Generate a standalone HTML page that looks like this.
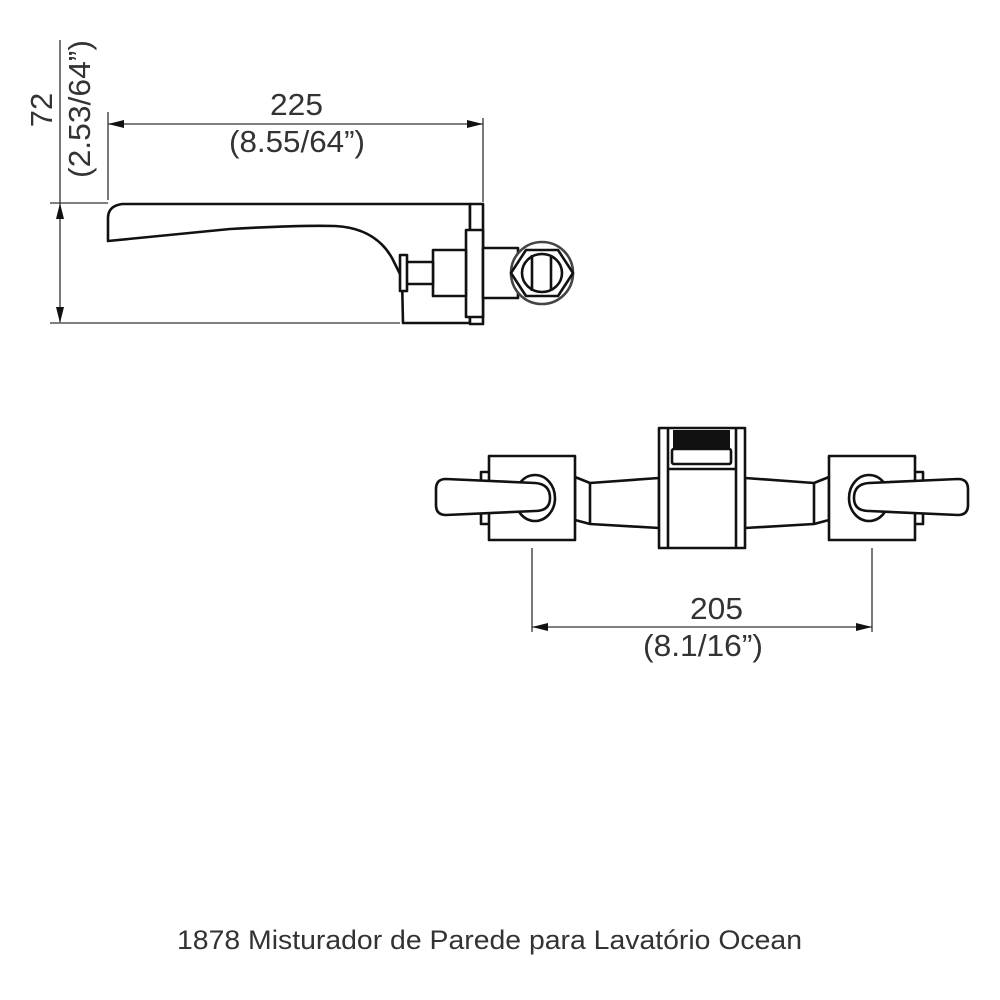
<!DOCTYPE html>
<html><head><meta charset="utf-8"><style>html,body{margin:0;padding:0;background:#fff}svg{display:block}</style></head>
<body>
<svg width="1000" height="1000" viewBox="0 0 1000 1000" xmlns="http://www.w3.org/2000/svg">
<rect width="1000" height="1000" fill="#fff"/>
<g font-family="Liberation Sans, Arial, sans-serif" fill="#333">
<text x="270" y="115" font-size="31" textLength="53" lengthAdjust="spacingAndGlyphs">225</text>
<text x="229" y="152" font-size="31" textLength="136" lengthAdjust="spacingAndGlyphs">(8.55/64”)</text>
<text transform="translate(52,110) rotate(-90)" font-size="31" text-anchor="middle">72</text>
<text transform="translate(90,178) rotate(-90)" font-size="31" textLength="138" lengthAdjust="spacingAndGlyphs">(2.53/64”)</text>
<text x="690" y="619" font-size="31" textLength="53" lengthAdjust="spacingAndGlyphs">205</text>
<text x="643" y="656" font-size="31" textLength="120" lengthAdjust="spacingAndGlyphs">(8.1/16”)</text>
<text x="177" y="949" font-size="27" textLength="625" lengthAdjust="spacingAndGlyphs">1878 Misturador de Parede para Lavatório Ocean</text>
</g>
<g stroke="#333" stroke-width="1.3" fill="none">
<line x1="108" y1="112" x2="108" y2="200"/>
<line x1="483" y1="118" x2="483" y2="202"/>
<line x1="108" y1="124" x2="483" y2="124"/>
<line x1="60" y1="40" x2="60" y2="322"/>
<line x1="50" y1="203" x2="108" y2="203"/>
<line x1="50" y1="323" x2="400" y2="323"/>
<line x1="532" y1="548" x2="532" y2="632"/>
<line x1="872" y1="548" x2="872" y2="632"/>
<line x1="532" y1="627" x2="872" y2="627"/>
</g>
<g fill="#111">
<polygon points="108,124 124,120 124,128"/>
<polygon points="483,124 467,120 467,128"/>
<polygon points="60,203 56,219 64,219"/>
<polygon points="60,323 56,307 64,307"/>
<polygon points="532,627 548,623 548,631"/>
<polygon points="872,627 856,623 856,631"/>
</g>
<g stroke="#111" stroke-width="2.6" fill="#fff" stroke-linejoin="round">
<path d="M470,204 L122,204 Q108,206 108,218 L108,241 L230,229 Q300,225 335,226 Q375,228 392,258 L402,278 L403,323 L470,323 Z"/>
<rect x="470" y="204" width="13" height="120"/>
<rect x="466" y="230" width="17" height="87"/>
<rect x="483" y="248" width="35" height="50"/>
<rect x="433" y="250" width="33" height="46"/>
<rect x="405" y="262" width="28" height="22"/>
<rect x="400" y="255" width="7" height="36"/>
<circle cx="542" cy="273" r="31" stroke="#444"/>
<polygon points="511,273 526,250 558,250 573,273 558,296 526,296"/>
<ellipse cx="542" cy="273" rx="20" ry="19"/>
<line x1="532" y1="255" x2="532" y2="291"/>
<line x1="551" y1="255" x2="551" y2="291"/>
<path d="M575,477 L590,483 L659,478 L659,528 L590,524 L575,520 Z"/>
<path d="M829,477 L814,483 L745,478 L745,528 L814,524 L829,520 Z"/>
<line x1="590" y1="483" x2="590" y2="524"/>
<line x1="814" y1="483" x2="814" y2="524"/>
<rect x="481" y="472" width="9" height="52"/>
<rect x="914" y="472" width="9" height="52"/>
<rect x="489" y="456" width="86" height="84"/>
<rect x="829" y="456" width="86" height="84"/>
<ellipse cx="535" cy="498" rx="20" ry="23"/>
<ellipse cx="869" cy="498" rx="20" ry="23"/>
<path d="M446,479 L535,483 Q550,484 550,498 Q550,511 535,511 L446,515 Q436,515 436,505 L436,489 Q436,479 446,479 Z"/>
<path d="M958,479 L869,483 Q854,484 854,498 Q854,511 869,511 L958,515 Q968,515 968,505 L968,489 Q968,479 958,479 Z"/>
<rect x="659" y="428" width="86" height="120"/>
<line x1="668" y1="428" x2="668" y2="548"/>
<line x1="736" y1="428" x2="736" y2="548"/>
<line x1="668" y1="469" x2="736" y2="469"/>
<rect x="672" y="449" width="59" height="15" rx="2"/>
</g>
<rect x="673" y="430" width="57" height="19" fill="#111"/>
</svg>
</body></html>
